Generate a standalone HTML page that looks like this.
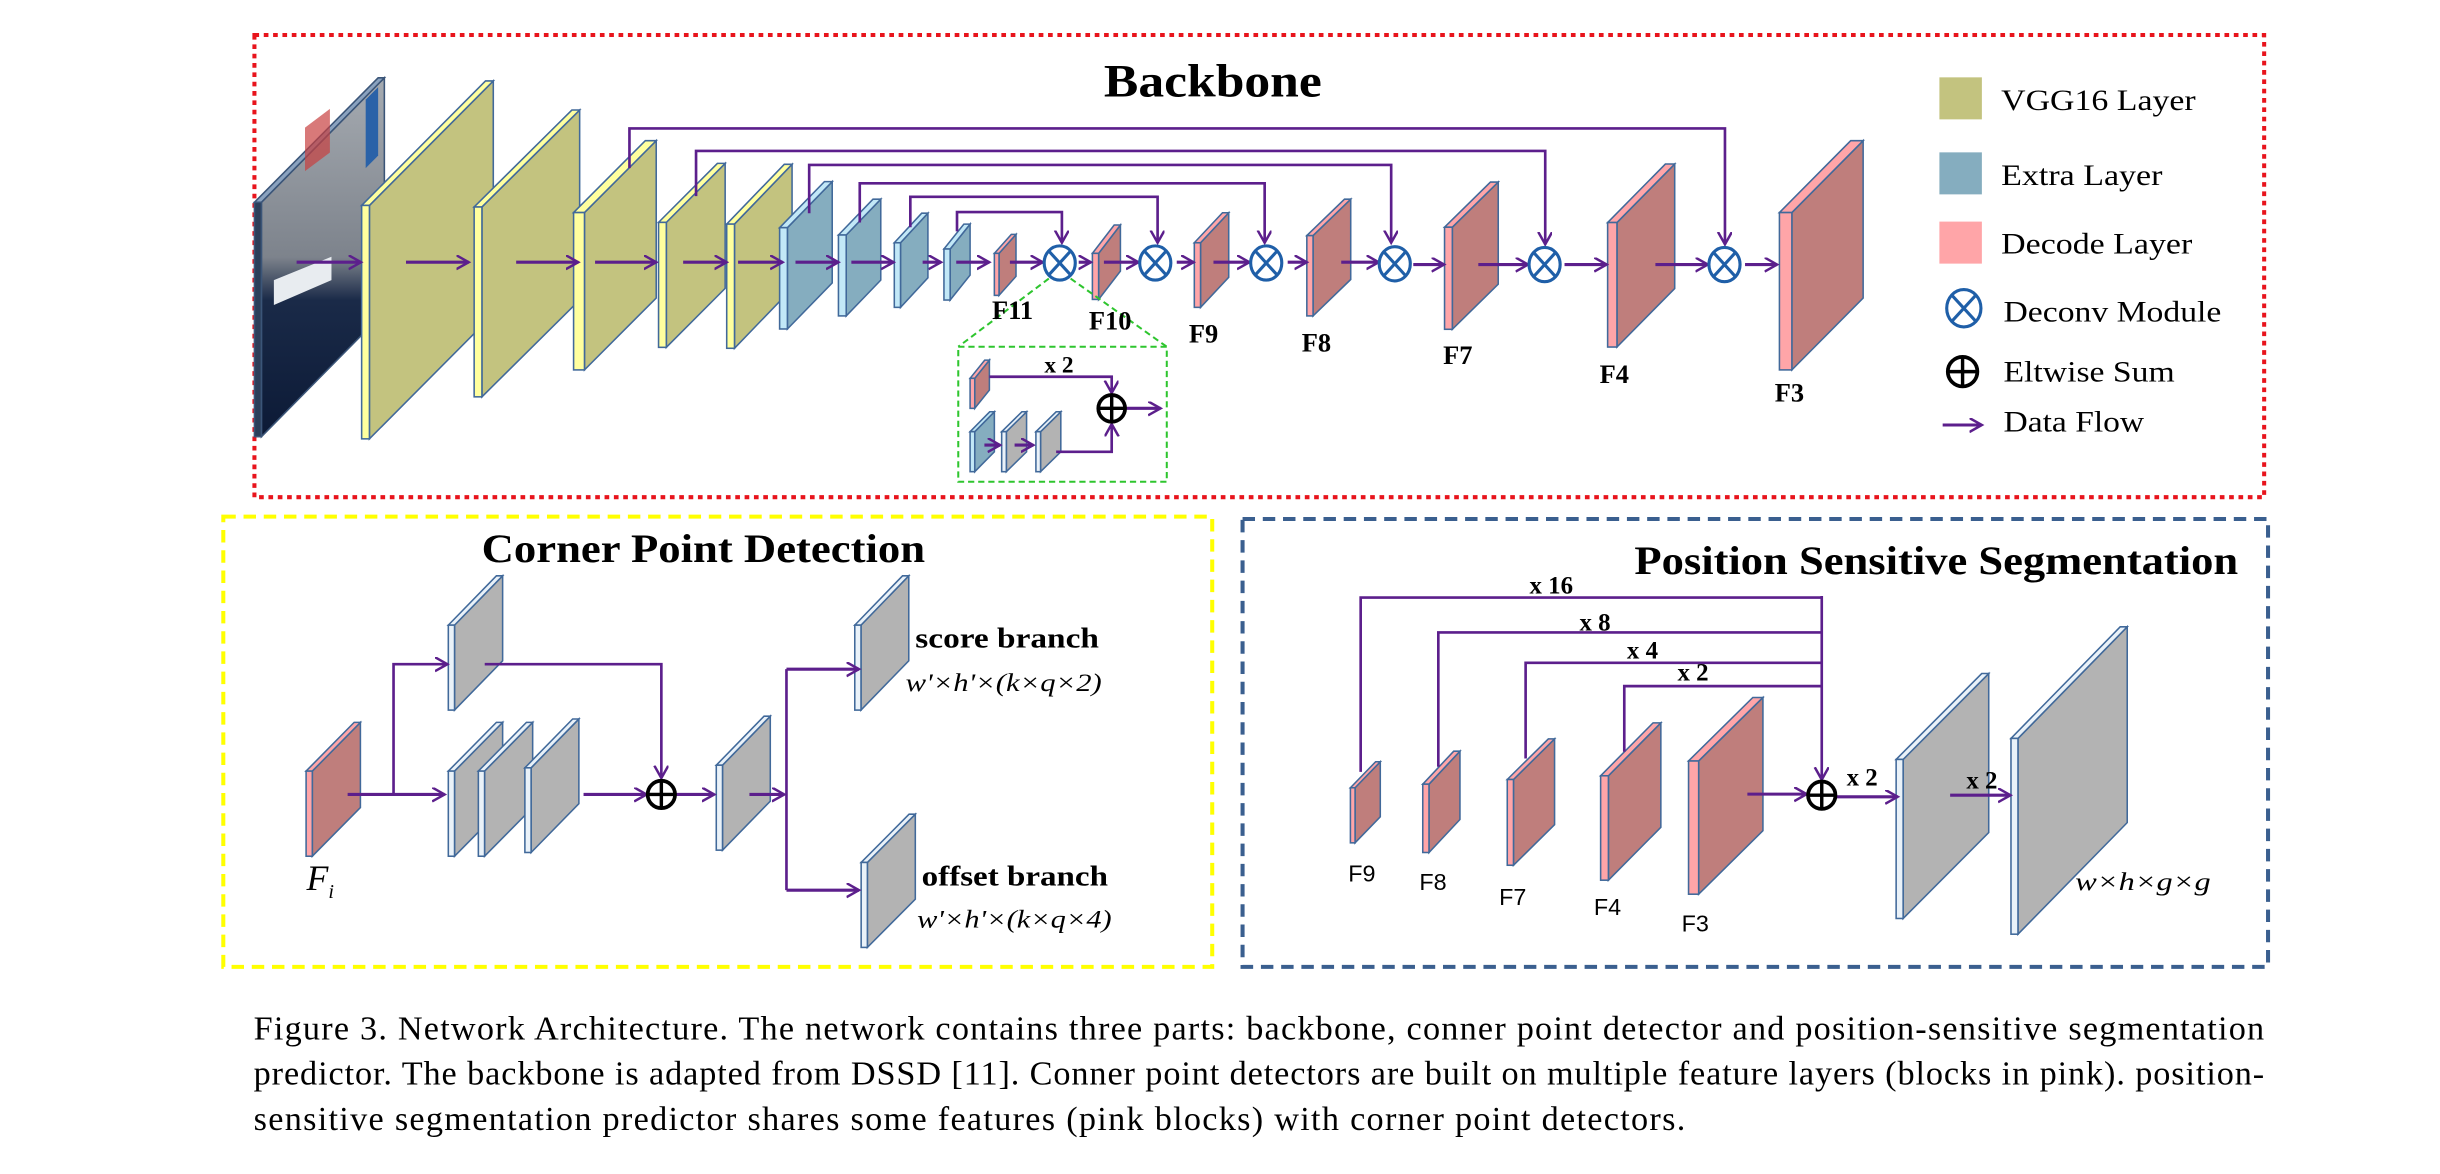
<!DOCTYPE html>
<html><head><meta charset="utf-8">
<style>
html,body{margin:0;padding:0;background:#fff;}
svg{display:block;}
.sb{font-family:"Liberation Serif","Times New Roman",serif;font-weight:bold;fill:#000;}
.sr{font-family:"Liberation Serif","Times New Roman",serif;fill:#000;}
.si{font-family:"Liberation Serif","Times New Roman",serif;font-style:italic;fill:#000;}
.ss{font-family:"Liberation Sans",sans-serif;fill:#000;}
</style></head>
<body>
<svg id="s" xmlns="http://www.w3.org/2000/svg" width="2440" height="1174" viewBox="0 0 1568 754.4" preserveAspectRatio="none">
<defs>
<marker id="ah" markerWidth="12" markerHeight="12" refX="8" refY="4.5" orient="auto" markerUnits="userSpaceOnUse">
<path d="M0,0 L8,4.5 L0,9" fill="none" stroke="#5c1f8c" stroke-width="1.6"/>
</marker>
<linearGradient id="ph" x1="0" y1="0" x2="0" y2="1">
<stop offset="0" stop-color="#a6abb1"/><stop offset="0.5" stop-color="#7d838c"/>
<stop offset="0.62" stop-color="#1a2a48"/><stop offset="1" stop-color="#0c1a36"/>
</linearGradient>
</defs>
<rect x="163.5" y="22.5" width="1291.5" height="297" fill="none" stroke="#e8141c" stroke-width="2.6" stroke-dasharray="3 3"/>
<rect x="143.5" y="332" width="635.5" height="289.3" fill="none" stroke="#ffff00" stroke-width="2.6" stroke-dasharray="8 5"/>
<rect x="798.5" y="333.5" width="659" height="287.8" fill="none" stroke="#3a5f8f" stroke-width="2.6" stroke-dasharray="8 5"/>
<g id="g"></g>
<text class="sb" x="709.4" y="62" font-size="30" textLength="140" lengthAdjust="spacingAndGlyphs">Backbone</text>
<text class="sb" x="650.7" y="205" font-size="17" text-anchor="middle">F11</text>
<text class="sb" x="713.4" y="211.6" font-size="17" text-anchor="middle">F10</text>
<text class="sb" x="773.4" y="220" font-size="17" text-anchor="middle">F9</text>
<text class="sb" x="846" y="226" font-size="17" text-anchor="middle">F8</text>
<text class="sb" x="936.8" y="234" font-size="17" text-anchor="middle">F7</text>
<text class="sb" x="1037.4" y="246" font-size="17" text-anchor="middle">F4</text>
<text class="sb" x="1149.9" y="258" font-size="17" text-anchor="middle">F3</text>
<text class="sb" x="680.5" y="239.4" font-size="15" text-anchor="middle">x 2</text>
<rect x="1246.3" y="49.7" width="27.3" height="27" fill="#c3c37f"/>
<rect x="1246.3" y="97.9" width="27.3" height="27" fill="#85adbf"/>
<rect x="1246.3" y="142.4" width="27.3" height="27" fill="#ffa5a8"/>
<text class="sr" x="1286" y="70.7" font-size="19" textLength="125" lengthAdjust="spacingAndGlyphs">VGG16 Layer</text>
<text class="sr" x="1286" y="118.9" font-size="19" textLength="103.6" lengthAdjust="spacingAndGlyphs">Extra Layer</text>
<text class="sr" x="1286" y="162.8" font-size="19" textLength="122.8" lengthAdjust="spacingAndGlyphs">Decode Layer</text>
<text class="sr" x="1287.5" y="206.7" font-size="19" textLength="140" lengthAdjust="spacingAndGlyphs">Deconv Module</text>
<text class="sr" x="1287.5" y="245.3" font-size="19" textLength="110" lengthAdjust="spacingAndGlyphs">Eltwise Sum</text>
<text class="sr" x="1287.5" y="277.4" font-size="19" textLength="90.4" lengthAdjust="spacingAndGlyphs">Data Flow</text>
<text class="sb" x="309.5" y="361" font-size="26" textLength="285" lengthAdjust="spacingAndGlyphs">Corner Point Detection</text>
<text class="si" x="197" y="572" font-size="23">F<tspan font-size="13" dy="5">i</tspan></text>
<text class="sb" x="588.2" y="416" font-size="18" textLength="118" lengthAdjust="spacingAndGlyphs">score branch</text>
<text class="si" x="582" y="444" font-size="16" textLength="126" lengthAdjust="spacingAndGlyphs">w'×h'×(k×q×2)</text>
<text class="sb" x="592.3" y="569" font-size="18" textLength="119.7" lengthAdjust="spacingAndGlyphs">offset branch</text>
<text class="si" x="589.4" y="596" font-size="16" textLength="125" lengthAdjust="spacingAndGlyphs">w'×h'×(k×q×4)</text>
<text class="sb" x="1050.3" y="369" font-size="26" textLength="388" lengthAdjust="spacingAndGlyphs">Position Sensitive Segmentation</text>
<text class="sb" x="996.9" y="381.5" font-size="16" text-anchor="middle">x 16</text>
<text class="sb" x="1025" y="405" font-size="16" text-anchor="middle">x 8</text>
<text class="sb" x="1055.5" y="423.3" font-size="16" text-anchor="middle">x 4</text>
<text class="sb" x="1088" y="437.2" font-size="16" text-anchor="middle">x 2</text>
<text class="sb" x="1196.7" y="504.7" font-size="16" text-anchor="middle">x 2</text>
<text class="sb" x="1273.6" y="506.8" font-size="16" text-anchor="middle">x 2</text>
<text class="ss" x="875.2" y="566.5" font-size="15" text-anchor="middle">F9</text>
<text class="ss" x="920.9" y="571.8" font-size="15" text-anchor="middle">F8</text>
<text class="ss" x="972.1" y="581.5" font-size="15" text-anchor="middle">F7</text>
<text class="ss" x="1033" y="588" font-size="15" text-anchor="middle">F4</text>
<text class="ss" x="1089.4" y="598.6" font-size="15" text-anchor="middle">F3</text>
<text class="si" x="1333.6" y="572" font-size="16" textLength="87" lengthAdjust="spacingAndGlyphs">w×h×g×g</text>
<text class="sr" x="163" y="668" font-size="22" textLength="1292" lengthAdjust="spacing">Figure 3. Network Architecture.  The network contains three parts:  backbone, conner point detector and position-sensitive segmentation</text>
<text class="sr" x="163" y="697" font-size="22" textLength="1292" lengthAdjust="spacing">predictor. The backbone is adapted from DSSD [11]. Conner point detectors are built on multiple feature layers (blocks in pink). position-</text>
<text class="sr" x="163" y="726" font-size="22" textLength="920" lengthAdjust="spacing">sensitive segmentation predictor shares some features (pink blocks) with corner point detectors.</text>
</svg>
<script>
const g=document.getElementById('g');const NS='http://www.w3.org/2000/svg';
function el(t,a,p){const e=document.createElementNS(NS,t);for(const k in a)e.setAttribute(k,a[k]);(p||g).appendChild(e);return e;}
const C={v:['#c3c37f','#ffff9e'],e:['#85adbf','#c2e8f7'],d:['#bf7e7c','#ffa5a8'],g:['#b3b3b3','#eaf2f9']};
const SK='#41699a';
function L(x,yT,yB,r,t,c,s){s=s||5;const f=C[c][0],st=C[c][1];const dx=r-s-x,dy=yT-t;
el('polygon',{points:`${x+s},${yT} ${r},${t} ${r},${yB-dy} ${x+s},${yB}`,fill:f,stroke:SK,'stroke-width':1});
el('polygon',{points:`${x},${yT} ${x+dx},${t} ${r},${t} ${x+s},${yT}`,fill:st,stroke:SK,'stroke-width':1});
el('rect',{x:x,y:yT,width:s,height:yB-yT,fill:st,stroke:SK,'stroke-width':1});}
function A(x1,y1,x2,y2){el('line',{x1,y1,x2,y2,stroke:'#5c1f8c','stroke-width':2,'marker-end':'url(#ah)'});}
function P(pts,ar){const a={points:pts,fill:'none',stroke:'#5c1f8c','stroke-width':1.7};if(ar)a['marker-end']='url(#ah)';el('polyline',a);}
function D(cx,cy,rx,ry){rx=rx||10;ry=ry||11;el('ellipse',{cx,cy,rx,ry,fill:'#fff',stroke:'#1f5fa8','stroke-width':2});
const k=0.7;el('line',{x1:cx-rx*k,y1:cy-ry*k,x2:cx+rx*k,y2:cy+ry*k,stroke:'#1f5fa8','stroke-width':2});
el('line',{x1:cx+rx*k,y1:cy-ry*k,x2:cx-rx*k,y2:cy+ry*k,stroke:'#1f5fa8','stroke-width':2});}
function S(cx,cy,r){el('circle',{cx,cy,r,fill:'#fff',stroke:'#000','stroke-width':2.4});
el('line',{x1:cx-r,y1:cy,x2:cx+r,y2:cy,stroke:'#000','stroke-width':2.2});el('line',{x1:cx,y1:cy-r,x2:cx,y2:cy+r,stroke:'#000','stroke-width':2.2});}

el('polygon',{points:'168,130 247,50 247,200.6 168,280.6',fill:'url(#ph)',stroke:'#3b5578','stroke-width':1});
el('polygon',{points:'163.5,130 243,50 247,50 168,130',fill:'#8aa2bf',stroke:'#3b5578','stroke-width':1});
el('rect',{x:163.5,y:130,width:4.5,height:150.6,fill:'#2b3f5a',stroke:'#3b5578','stroke-width':1});
el('polygon',{points:'235,64 243,56 243,100 235,108',fill:'#2a62a8'});
el('polygon',{points:'176,180 213,165 213,180 176,196',fill:'#e8ecf0'});
el('polygon',{points:'196,82 212,70 212,98 196,110',fill:'#c84040',opacity:0.7});
L(232.4,132,282,317,52,'v',5);
L(304.7,133,255,372.5,70.7,'v',5);
L(368.6,136.6,237.7,421.7,90.4,'v',7);
L(423.2,142.9,223.2,466,105,'v',5);
L(467,144,223.8,509,105.6,'v',5);
L(501,146.3,211.4,534.8,116.7,'e',5);
L(538.8,151,203,566,128,'e',5);
L(574.7,156,197.5,596.3,137,'e',4);
L(606.6,160,192.8,623.4,144,'e',4);
L(639,162.8,189.8,652.9,150.6,'d',3);
L(702,162.8,192.4,720,144.6,'d',4);
L(767.5,156,197.5,789.6,136.7,'d',4);
L(839.8,151.4,203,868,128,'d',4);
L(928.3,146,211.6,962.8,117,'d',5);
L(1033.1,143,223,1076.2,105.4,'d',6);
L(1143.5,136.6,237.7,1197.3,90.4,'d',8);
P('404.5,108 404.5,82.5 1108.5,82.5 1108.5,157',1);
P('447.3,126 447.3,97 993,97 993,157',1);
P('520,137 520,106 894,106 894,156',1);
P('552.5,143 552.5,117.8 812.7,117.8 812.7,156',1);
P('585,146 585,126.5 743.9,126.5 743.9,156',1);
P('615,148.7 615,136.3 682.4,136.3 682.4,156',1);
[[190.6,232],[260.9,301.2],[331.7,371.6],[382.4,421.7],[439,467],[474.3,502.9],[511.2,538.8],[547.1,574.2],[592.9,604.7],[614.5,635.7],[649,670.1],[693.2,701],[709.4,731.6],[756.2,767],[779.8,802.9],[827.5,839.8],[861.9,886]].forEach(a=>A(a[0],168.5,a[1],168.5));
[[908.2,928],[950,982],[1005.4,1032.5],[1063.8,1097.5],[1121.4,1142]].forEach(a=>A(a[0],170,a[1],170));
D(681,169);D(742.4,169);D(813.7,169);D(896.3,169.5);D(992.6,170);D(1108.2,170);
el('polyline',{points:'674,179 615.8,222.8',fill:'none',stroke:'#2ec52e','stroke-width':1.3,'stroke-dasharray':'4 2.5'});
el('polyline',{points:'688,179 749.8,222.8',fill:'none',stroke:'#2ec52e','stroke-width':1.3,'stroke-dasharray':'4 2.5'});
el('rect',{x:615.8,y:222.8,width:134,height:86.8,fill:'none',stroke:'#2ec52e','stroke-width':1.3,'stroke-dasharray':'4 2.5'});
L(623.4,243.1,262.4,635.8,231.4,'d',3);
L(623.4,277.4,303.1,639,264.6,'e',3);
L(643.7,277.4,303.1,659.7,264.6,'g',3);
L(665.7,277.4,303.1,681.7,264.6,'g',3);
A(632.6,286,642.7,286);A(652,286,664,286);
P('635.8,242.1 714.4,242.1 714.4,252.5',1);
P('678.7,290.3 714.4,290.3 714.4,272.5',1);
A(723,262.4,745.8,262.4);
S(714.4,262.4,8.6);
D(1262,198.1,11,12);S(1261.2,238.8,9.5);A(1248.4,273.1,1273.6,273.1);
L(196.7,495.5,550.2,231.6,464.2,'d',4);
L(288.1,401.7,456.3,323,370,'g',4);
L(288.1,495.5,550.2,323,464.2,'g',4);
L(307.4,495.5,550.2,342.3,464.2,'g',4);
L(337.3,493.4,547.8,372,462,'g',4);
L(460.3,491.7,546.3,495,460.2,'g',4);
L(549.3,401.7,456.3,584,370,'g',4);
L(553.4,554.2,608.8,588.2,523.2,'g',4);
A(223.4,510.5,285.7,510.5);
P('252.9,510.5 252.9,426.8 287.5,426.8',1);
P('311.5,426.8 425,426.8 425,500',1);
A(375,510.5,415.5,510.5);
A(434,510.5,459,510.5);
A(481.6,510.5,504,510.5);
P('505.4,430 505.4,572',0);
A(505.4,430,552,430);A(505.4,572,552,572);
S(425,510.5,8.8);
L(867.8,506.2,541.6,887,489.5,'d',3);
L(914.3,503.9,547.8,938.2,482.7,'d',4);
L(968.6,500.9,556,999,474.8,'d',4);
L(1028.6,498.5,565.6,1067.3,464.5,'d',5);
L(1085.1,489,574.6,1132.9,448.2,'d',6.5);
L(1218.5,488,590.2,1278,432.8,'g',4.5);
L(1292.3,474.5,600.3,1367,402.8,'g',4.5);
P('874.4,496 874.4,384 1170.7,384',0);
P('924.3,492.7 924.3,406.4 1170.7,406.4',0);
P('980.4,487.4 980.4,425.9 1170.7,425.9',0);
P('1043.8,483.1 1043.8,440.9 1170.7,440.9',0);
P('1170.7,383 1170.7,501',1);
A(1122.9,510.3,1161,510.3);
A(1180,512,1219.5,512);
A(1253.2,511,1292,511);
S(1170.7,511,8.8);
</script>
</body></html>
